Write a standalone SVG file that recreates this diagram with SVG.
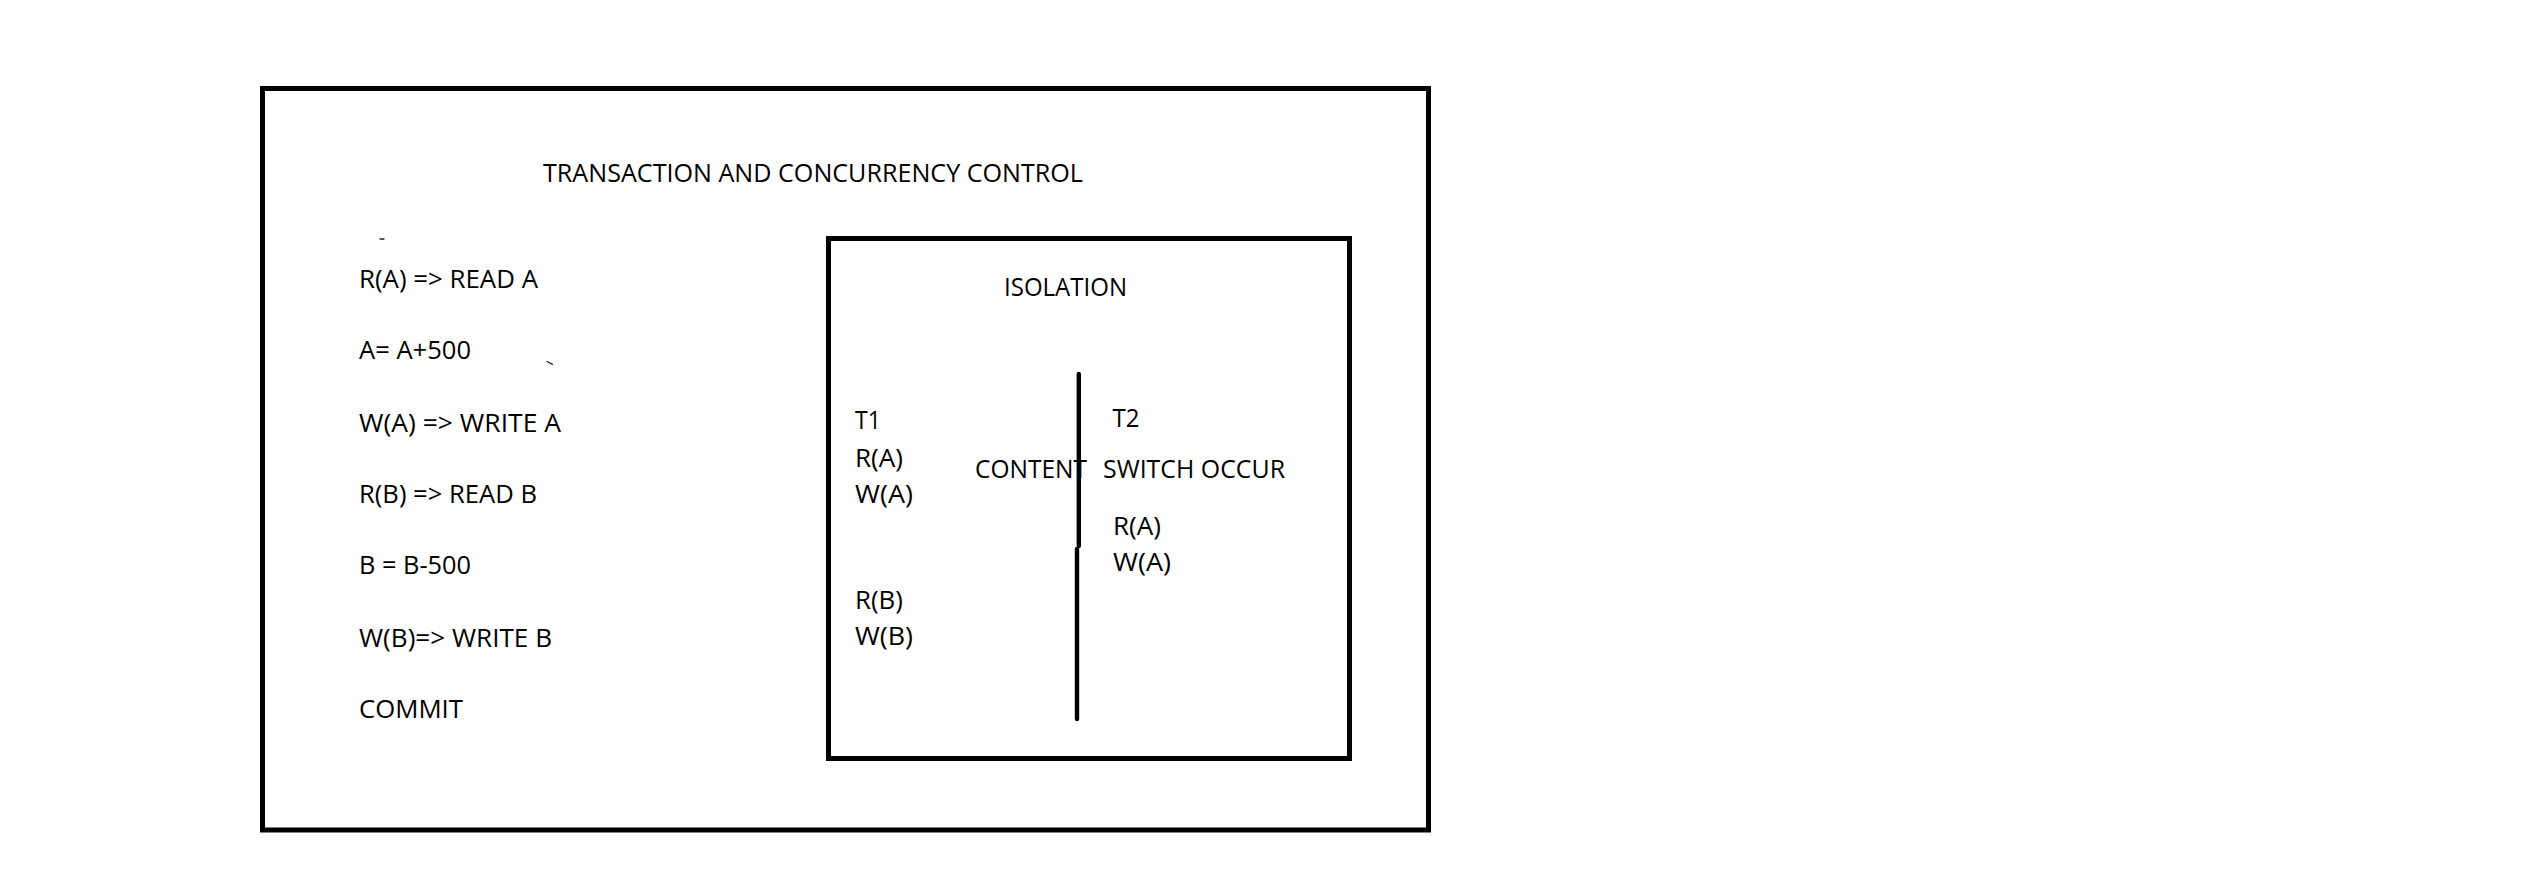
<svg xmlns="http://www.w3.org/2000/svg" width="2535" height="895" viewBox="0 0 2535 895">
<style>
.box{fill:none;stroke:#000;stroke-width:5}
.t{font-family:"Open Sans","Liberation Sans",sans-serif;font-size:26px;fill:#000}
.div{stroke:#000;stroke-width:4.4;stroke-linecap:round}
.mark{stroke:#222;stroke-width:1.3;stroke-linecap:round}
</style>
<rect width="2535" height="895" fill="#fff"/>
<g id="outer">
<rect class="box" x="262.5" y="88.5" width="1166" height="741.5"/>
<text class="t" x="543" y="182" textLength="540" lengthAdjust="spacingAndGlyphs">TRANSACTION AND CONCURRENCY CONTROL</text>
</g>
<g id="steps">
<text class="t" x="359" y="288" textLength="179" lengthAdjust="spacingAndGlyphs">R(A) =&gt; READ A</text>
<text class="t" x="359" y="359" textLength="112" lengthAdjust="spacingAndGlyphs">A= A+500</text>
<text class="t" x="359" y="432" textLength="202" lengthAdjust="spacingAndGlyphs">W(A) =&gt; WRITE A</text>
<text class="t" x="359" y="503" textLength="178" lengthAdjust="spacingAndGlyphs">R(B) =&gt; READ B</text>
<text class="t" x="359" y="574" textLength="112" lengthAdjust="spacingAndGlyphs">B = B-500</text>
<text class="t" x="359" y="647" textLength="193" lengthAdjust="spacingAndGlyphs">W(B)=&gt; WRITE B</text>
<text class="t" x="359" y="718" textLength="104" lengthAdjust="spacingAndGlyphs">COMMIT</text>
<line class="mark" x1="380" y1="239" x2="384" y2="239"/>
<line class="mark" x1="547" y1="361.5" x2="552.5" y2="364.3"/>
</g>
<g id="isolation">
<rect class="box" x="828.5" y="238.5" width="521" height="520"/>
<text class="t" x="1004" y="296" textLength="123" lengthAdjust="spacingAndGlyphs">ISOLATION</text>
</g>
<g id="t1">
<text class="t" x="855" y="428.5" textLength="26" lengthAdjust="spacingAndGlyphs">T1</text>
<text class="t" x="855" y="467" textLength="48" lengthAdjust="spacingAndGlyphs">R(A)</text>
<text class="t" x="855" y="503" textLength="58" lengthAdjust="spacingAndGlyphs">W(A)</text>
<text class="t" x="855" y="609" textLength="48" lengthAdjust="spacingAndGlyphs">R(B)</text>
<text class="t" x="855" y="645" textLength="58" lengthAdjust="spacingAndGlyphs">W(B)</text>
</g>
<g id="t2">
<text class="t" x="1112.5" y="427" textLength="27" lengthAdjust="spacingAndGlyphs">T2</text>
<text class="t" x="1113" y="535" textLength="48" lengthAdjust="spacingAndGlyphs">R(A)</text>
<text class="t" x="1113" y="571" textLength="58" lengthAdjust="spacingAndGlyphs">W(A)</text>
</g>
<g id="connectors">
<line class="div" x1="1078.8" y1="374" x2="1078.8" y2="546"/>
<line class="div" x1="1077" y1="549" x2="1077" y2="719"/>
</g>
<g id="switch-label">
<text class="t" x="975" y="478" textLength="112" lengthAdjust="spacingAndGlyphs">CONTENT</text>
<text class="t" x="1103" y="478" textLength="182" lengthAdjust="spacingAndGlyphs">SWITCH OCCUR</text>
</g>
</svg>
